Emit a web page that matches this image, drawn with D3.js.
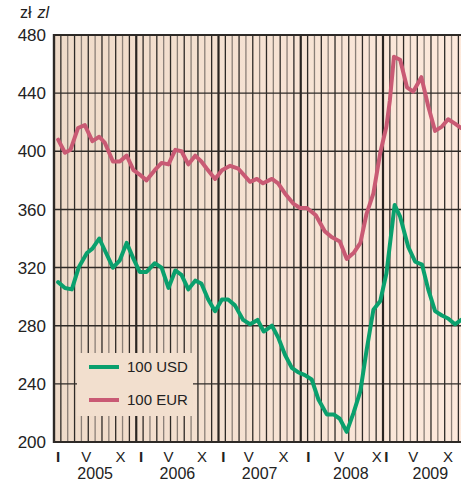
<!DOCTYPE html>
<html lang="pl">
<head>
<meta charset="UTF-8">
<title>USD / EUR</title>
<style>
  body { margin: 0; background: #fff; }
  svg text { font-family: "Liberation Sans", Arial, sans-serif; fill: #222; }
</style>
</head>
<body>
<svg id="svg" width="461" height="483"></svg>
<script src="https://d3js.org/d3.v7.min.js"></script>
<script>
// months counted from Jan 2005 (0 = start of Jan 2005)
const eurMonths = [0.6,1.6,2.4,3.5,4.5,5.6,6.6,7.4,8.6,9.6,10.6,11.6,12.5,13.5,14.7,15.7,16.7,17.7,18.6,19.6,20.6,21.5,22.3,23.5,24.5,25.7,26.9,28.6,29.6,30.5,31.8,32.7,33.7,34.9,35.9,36.9,38.2,39.5,40.5,41.7,42.7,43.7,44.7,45.6,46.6,47.6,48.5,49.0,49.6,50.5,51.5,52.4,53.6,54.6,55.6,56.6,57.5,58.5,59.4]
const eurValues = [408,399,401,416,418,407,410,406,393,393,397,387,384,380,387,392,391,401,400,391,397,393,388,381,387,390,388,379,381,378,381,378,371,364,361,361,356,345,341,338,326,330,337,357,371,399,417,435,465,463,444,441,451,431,414,417,422,419,416]

const usdMonths = [0.6,1.6,2.6,3.6,4.8,5.6,6.6,7.7,8.6,9.6,10.6,11.6,12.5,13.5,14.7,15.7,16.7,17.7,18.6,19.6,20.6,21.5,22.5,23.5,24.5,25.4,26.4,27.6,28.6,29.7,30.6,31.8,32.7,33.7,34.7,35.6,36.6,37.6,38.6,39.8,40.8,41.7,42.7,43.7,44.7,45.6,46.6,47.6,48.5,49.7,50.5,51.7,52.7,53.7,54.6,55.6,56.6,57.5,58.5,59.4]
const usdValues = [310,306,305,320,330,333,340,329,320,325,337,326,317,317,323,320,306,318,315,305,311,309,298,290,298,298,294,284,281,284,276,280,272,260,251,248,246,243,229,219,219,216,207,220,235,263,291,297,316,363,355,334,324,322,305,290,287,285,281,284]

const yTicks = [200, 240, 280, 320, 360, 400, 440, 480]
const monthLabels = ['I','V','X','I','V','X','I','V','X','I','V','X','I','V','X']
const monthLabelPos = [0.6,4.7,9.7,12.7,16.7,21.6,24.7,28.4,33.5,37.1,41.6,47.1,48.5,52.4,57.5]
const years = ['2005','2006','2007','2008','2009']
const yearLabelPos = [6, 18, 30, 43.3, 54.9]

const series = [
  { name: '100 USD', months: usdMonths, values: usdValues, color: '#0aa06d' },
  { name: '100 EUR', months: eurMonths, values: eurValues, color: '#c95a74' }
]

const svg = d3.select('#svg')

const x = d3.scaleLinear().domain([0, 60]).range([54, 465.25])
const y = d3.scaleLinear().domain([200, 480]).range([442, 35])

// background gradient
const grad = svg.append('defs').append('linearGradient')
  .attr('id', 'bg').attr('x1', 0).attr('x2', 1).attr('y1', 0).attr('y2', 0)
grad.append('stop').attr('offset', 0).attr('stop-color', '#efdbc9')
grad.append('stop').attr('offset', 1).attr('stop-color', '#fde9dc')

svg.append('rect')
  .attr('x', x(0)).attr('y', y(480))
  .attr('width', x(60) - x(0)).attr('height', y(200) - y(480))
  .attr('fill', 'url(#bg)')

// monthly grid
const monthGrid = d3.range(1, 60)
svg.append('g').selectAll('line')
  .data(monthGrid)
  .enter()
  .append('line')
  .attr('x1', d => x(d)).attr('x2', d => x(d))
  .attr('y1', y(480)).attr('y2', y(200))
  .attr('stroke', d => d % 12 === 0 ? '#2a2522' : (d % 2 ? '#2e2a27' : '#8a7f77'))
  .attr('stroke-width', d => d % 12 === 0 ? 2.2 : 1.3)

// horizontal grid
svg.append('g').selectAll('line')
  .data(yTicks)
  .enter()
  .append('line')
  .attr('x1', x(0)).attr('x2', x(60))
  .attr('y1', d => y(d)).attr('y2', d => y(d))
  .attr('stroke', '#2e2a27')
  .attr('stroke-width', d => (d === 200 || d === 480) ? 2.2 : 1.4)

// left border
svg.append('line')
  .attr('x1', x(0)).attr('x2', x(0))
  .attr('y1', y(480) - 1).attr('y2', y(200) + 1)
  .attr('stroke', '#2e2a27').attr('stroke-width', 2.4)

// y labels
svg.append('g').selectAll('text')
  .data(yTicks)
  .enter()
  .append('text')
  .attr('x', 46).attr('y', d => y(d))
  .attr('dy', '0.36em')
  .attr('text-anchor', 'end')
  .attr('font-size', 17)
  .text(d => d)

// unit label
const unit = svg.append('text').attr('x', 20).attr('y', 18).attr('font-size', 16)
unit.append('tspan').text('zł')
unit.append('tspan').attr('dx', 6).attr('font-style', 'italic').text('zl')

// month labels
svg.append('g').selectAll('text')
  .data(monthLabels)
  .enter()
  .append('text')
  .attr('x', (d, i) => x(monthLabelPos[i]))
  .attr('y', 462)
  .attr('text-anchor', 'middle')
  .attr('font-size', 15)
  .attr('font-weight', d => d === 'I' ? 'bold' : 'normal')
  .text(d => d)

// year labels
svg.append('g').selectAll('text')
  .data(years)
  .enter()
  .append('text')
  .attr('x', (d, i) => x(yearLabelPos[i]))
  .attr('y', 479)
  .attr('text-anchor', 'middle')
  .attr('font-size', 16)
  .text(d => d)

// legend box
svg.append('rect')
  .attr('x', 77).attr('y', 353).attr('width', 116).attr('height', 63)
  .attr('fill', '#f2dfce')

series.forEach((s, i) => {
  const ly = 367 + i * 33
  svg.append('line')
    .attr('x1', 89).attr('x2', 119).attr('y1', ly).attr('y2', ly)
    .attr('stroke', s.color).attr('stroke-width', 4)
  svg.append('text')
    .attr('x', 127).attr('y', ly).attr('dy', '0.36em')
    .attr('font-size', 15)
    .text(s.name)
})

// lines
const line = d3.line()
  .x(d => x(d[0]))
  .y(d => y(d[1]))

svg.append('g').selectAll('path')
  .data(series)
  .enter()
  .append('path')
  .attr('d', s => line(s.months.map((m, i) => [m, s.values[i]])))
  .attr('fill', 'none')
  .attr('stroke', s => s.color)
  .attr('stroke-width', 4)
  .attr('stroke-linejoin', 'round')
  .attr('stroke-linecap', 'round')
</script>
</body>
</html>
